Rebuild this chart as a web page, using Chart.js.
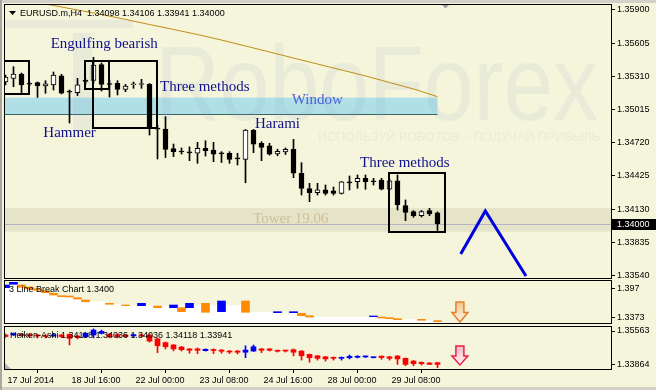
<!DOCTYPE html>
<html><head><meta charset="utf-8">
<script src="https://cdn.jsdelivr.net/npm/chart.js@4.4.1/dist/chart.umd.min.js"></script>
<style>
html,body{margin:0;padding:0;background:#F5F5DC;}
#wrap{position:relative;width:656px;height:390px;overflow:hidden;background:#F5F5DC;}
canvas{position:absolute;left:0;top:0;}
</style></head><body>
<div id="wrap">
<canvas id="cMain" width="656" height="390"></canvas>
<canvas id="cLbc" width="656" height="390"></canvas>
<canvas id="cHa" width="656" height="390"></canvas>
</div>
<script>
// ---------- DATA ----------
const symbol = 'EURUSD.m,H4';
const candleO = [1.35260,1.35293,1.35331,1.35242,1.35254,1.35225,1.35234,1.35314,1.35180,1.35165,
1.35269,1.35274,1.35416,1.35242,1.35249,1.35195,1.35236,1.35238,1.35240,1.34851,
1.34842,1.34668,1.34641,1.34634,1.34627,1.34671,1.34656,1.34625,1.34627,1.34580,
1.34573,1.34834,1.34716,1.34692,1.34622,1.34638,1.34662,1.34449,1.34314,1.34277,
1.34301,1.34294,1.34271,1.34367,1.34374,1.34404,1.34376,1.34389,1.34307,1.34383,
1.34161,1.34108,1.34072,1.34117,1.34098];
const candleH = [1.35322,1.35396,1.35340,1.35260,1.35260,1.35272,1.35349,1.35329,1.35189,1.35293,
1.35287,1.35480,1.35429,1.35278,1.35272,1.35239,1.35260,1.35284,1.35247,1.34878,
1.34952,1.34709,1.34674,1.34684,1.34724,1.34738,1.34724,1.34641,1.34641,1.34627,
1.34838,1.34838,1.34730,1.34716,1.34663,1.34674,1.34751,1.34543,1.34360,1.34360,
1.34345,1.34327,1.34376,1.34425,1.34434,1.34434,1.34404,1.34404,1.34398,1.34434,
1.34212,1.34117,1.34119,1.34138,1.34106];
const candleL = [1.35234,1.35218,1.35154,1.35225,1.35123,1.35160,1.35189,1.35154,1.34896,1.35140,
1.35242,1.35251,1.35180,1.35127,1.35145,1.35174,1.35204,1.35204,1.34789,1.34576,
1.34589,1.34597,1.34620,1.34561,1.34538,1.34602,1.34552,1.34545,1.34538,1.34523,
1.34365,1.34632,1.34561,1.34611,1.34605,1.34616,1.34410,1.34256,1.34197,1.34256,
1.34256,1.34256,1.34265,1.34301,1.34316,1.34307,1.34345,1.34301,1.34301,1.34123,
1.34028,1.34058,1.34061,1.34072,1.33941];
const candleC = [1.35305,1.35331,1.35234,1.35240,1.35225,1.35245,1.35322,1.35160,1.35169,1.35234,
1.35266,1.35411,1.35238,1.35238,1.35195,1.35225,1.35238,1.35240,1.34849,1.34842,
1.34662,1.34641,1.34638,1.34631,1.34671,1.34650,1.34618,1.34622,1.34573,1.34577,
1.34834,1.34707,1.34680,1.34618,1.34645,1.34662,1.34449,1.34314,1.34277,1.34301,
1.34271,1.34271,1.34374,1.34364,1.34404,1.34374,1.34373,1.34307,1.34383,1.34167,
1.34102,1.34072,1.34108,1.34087,1.34000];

const maIdx = [0,3,6,9,12,15,18,21,24,27,30,33,36,39,42,45,48,51,54];
const maVal = [1.36016,1.35980,1.35940,1.35900,1.35860,1.35816,1.35771,1.35727,1.35682,1.35633,
1.35580,1.35527,1.35473,1.35420,1.35367,1.35314,1.35256,1.35198,1.35130];

const zigIdx = [56.9, 59.98, 65.06];
const zigVal = [1.33732, 1.34114, 1.33536];

const mainTicks = [1.33540,1.33835,1.34130,1.34425,1.34720,1.35015,1.35310,1.35605,1.35900];
const lastPrice = 1.34000;

const towerBand = [1.33930, 1.34141];
const windowBand = [-1, 54, 1.34976, 1.35121];
const boxes = [ // [fromIdx, toIdx, topPrice, bottomPrice]
  [-1, 2.98, 1.35449, 1.35158],
  [9.94, 12.98, 1.35449, 1.35195],
  [10.9, 18.9, 1.35449, 1.34849],
  [47.94, 54.94, 1.34449, 1.33925]
];
const notes = [ // [text, idx, price, color]
  ['Engulfing bearish', 5.65, 1.35560, '#10108C'],
  ['Three methods', 19.31, 1.35183, '#10108C'],
  ['Hammer', 4.73, 1.34774, '#10108C'],
  ['Harami', 31.19, 1.34849, '#10108C'],
  ['Three methods', 44.31, 1.34508, '#10108C'],
  ['Window', 35.78, 1.35065, '#5060D8'],
  ['Tower 19.06', 30.94, 1.34005, '#D2BE96']
];

// 3 Line Break panel
const lbcTicks = [1.3373, 1.397];
const lbcTickText = ['1.3373', '1.397'];
const lbcIdx = [0,1,2,3,4,5,6,7,8,9,10,13,15,17,19,21,22,23,25,27,30,34,36,37,38,46,47,48,49,52,54];
const lbcLo = [1.39822,1.40512,1.39903,1.39558,1.39294,1.38807,1.38340,1.37994,1.37934,1.37527,
1.36979,1.36451,1.36167,1.36167,1.35761,1.35761,1.34949,1.35761,1.34827,1.34949,
1.34827,1.34746,1.34746,1.34137,1.33873,1.33933,1.33670,1.33527,1.33324,1.33202,1.32918];
const lbcHi = [1.40370,1.40918,1.40370,1.39964,1.39619,1.39213,1.38685,1.38197,1.38137,1.37791,
1.37324,1.36654,1.36309,1.36654,1.36106,1.36309,1.35761,1.36654,1.36654,1.37121,
1.37121,1.34949,1.34949,1.34624,1.34137,1.34076,1.33873,1.33730,1.33527,1.33405,1.33121];
const lbcUp = [1,1,0,0,0,0,0,0,0,0, 0,0,0,1,0,1,0,1,0,1, 0,1,1,0,0,1,0,0,0,0, 0];
const lbcWhiteTop = [1.39822,1.40512,1.39903,1.39558,1.39294,1.38807,1.38340,1.37994,1.37934,1.37527,
1.36979,1.36979,1.36979,1.36451,1.36451,1.36167,1.36167,1.36167,1.36167,1.36167,
1.36167,1.36167,1.36167,1.36167,1.36167,1.36167,1.36167,1.36167,1.36167,1.36167,
1.34827,1.34827,1.34827,1.34827,1.34746,1.34746,1.34746,1.34137,1.33873,1.33873,
1.33873,1.33873,1.33873,1.33873,1.33873,1.33873,1.33933,1.33670,1.33527,1.33324,
1.33324,1.33324,1.33202,1.33202,1.32918];
const lbcFloor = 1.32;

// Heiken-Ashi panel
const haTicks = [1.33864, 1.35563];
const haO = [1.3536,1.3536,1.3541,1.3538,1.3536,1.3533,1.3531,1.3536,1.3539,1.3531,
1.3527,1.3536,1.3544,1.3539,1.3538,1.3536,1.3531,1.3536,1.3536,1.3516,
1.3497,1.3485,1.3475,1.3465,1.3465,1.3456,1.3462,1.3459,1.3454,1.3454,
1.3448,1.3454,1.3465,1.3465,1.3458,1.3458,1.3461,1.3454,1.3437,1.3430,
1.3425,1.3422,1.3417,1.3420,1.3422,1.3424,1.3420,1.3428,1.3425,1.3429,
1.3417,1.3403,1.3397,1.3393,1.3395];
const haH = [1.3541,1.3546,1.3544,1.3541,1.3538,1.3536,1.3544,1.3538,1.3541,1.3533,
1.3546,1.3567,1.3561,1.3544,1.3541,1.3538,1.3541,1.3541,1.3541,1.3521,
1.3500,1.3487,1.3477,1.3467,1.3470,1.3465,1.3465,1.3462,1.3457,1.3457,
1.3481,1.3485,1.3467,1.3467,1.3459,1.3459,1.3465,1.3457,1.3439,1.3431,
1.3426,1.3424,1.3424,1.3434,1.3431,1.3429,1.3424,1.3429,1.3426,1.3431,
1.3419,1.3406,1.3398,1.3396,1.3396];
const haL = [1.3523,1.3533,1.3528,1.3526,1.3521,1.3521,1.3528,1.3523,1.3485,1.3516,
1.3526,1.3521,1.3541,1.3521,1.3521,1.3526,1.3528,1.3528,1.3500,1.3446,
1.3465,1.3455,1.3454,1.3443,1.3441,1.3454,1.3441,1.3443,1.3441,1.3439,
1.3420,1.3452,1.3446,1.3454,1.3449,1.3449,1.3429,1.3408,1.3397,1.3408,
1.3403,1.3408,1.3408,1.3414,1.3419,1.3421,1.3419,1.3412,1.3408,1.3386,
1.3379,1.3379,1.3383,1.3385,1.3369];
const haC = [1.3528,1.3544,1.3533,1.3531,1.3531,1.3528,1.3536,1.3528,1.3519,1.3523,
1.3545,1.3561,1.3554,1.3526,1.3528,1.3528,1.3538,1.3531,1.3505,1.3481,
1.3476,1.3465,1.3461,1.3458,1.3458,1.3463,1.3457,1.3453,1.3449,1.3448,
1.3459,1.3476,1.3458,1.3458,1.3453,1.3454,1.3448,1.3430,1.3420,1.3417,
1.3414,1.3417,1.3422,1.3427,1.3427,1.3427,1.3424,1.3421,1.3417,1.3414,
1.3386,1.3390,1.3390,1.3386,1.3386];
const haTitle = 'Heiken-Ashi 1.34118 1.34036 1.34036 1.34118 1.33941';
const lbcTitle = '3 Line Break Chart 1.3400';

const dateIdx = [0,8,16,24,32,40,48];
const dateText = ['17 Jul 2014','18 Jul 16:00','22 Jul 00:00','23 Jul 08:00','24 Jul 16:00','28 Jul 00:00','29 Jul 08:00'];

// ---------- SETUP ----------
Chart.defaults.font.family = '"Liberation Sans", Arial, sans-serif';
Chart.defaults.animation = false;
const SANS = '"Liberation Sans", Arial, sans-serif';
const SERIF = '"Liberation Serif", "Times New Roman", serif';
const X_MIN = -0.0625, X_MAX = 75.6875;
const idx = candleO.map((_, i) => i);

function xAxis() {
  return {type:'linear', min:X_MIN, max:X_MAX, offset:false, display:false, grid:{display:false}};
}
function yAxis(min, max, ticks, fmt) {
  return {
    type:'linear', position:'right', min, max,
    afterFit(s){ s.width = 45; },
    afterBuildTicks(s){ s.ticks = ticks.map(v => ({value:v})); },
    ticks:{autoSkip:false, padding:2, color:'#000', font:{family:SANS, size:9, lineHeight:0.5}, callback:fmt},
    grid:{drawOnChartArea:false, drawTicks:true, tickLength:4, color:'#000'},
    border:{display:true, color:'#000'}
  };
}
function frame(ctx, a) {
  ctx.save(); ctx.strokeStyle = '#000'; ctx.lineWidth = 1;
  ctx.strokeRect(a.left - 0.5, a.top - 0.5, a.right - a.left + 1, a.bottom - a.top + 1);
  ctx.restore();
}
function clipArea(ctx, a) { ctx.beginPath(); ctx.rect(a.left, a.top, a.right - a.left, a.bottom - a.top); ctx.clip(); }
function drawArrow(ctx, cx, top, h, stroke, c1, c2) {
  const sw = 8, hw = 16, hh = h * 0.47;
  const g = ctx.createLinearGradient(0, top, 0, top + h);
  g.addColorStop(0, c1); g.addColorStop(1, c2);
  ctx.save();
  ctx.beginPath();
  ctx.moveTo(cx - sw/2, top); ctx.lineTo(cx + sw/2, top); ctx.lineTo(cx + sw/2, top + h - hh);
  ctx.lineTo(cx + hw/2, top + h - hh); ctx.lineTo(cx, top + h); ctx.lineTo(cx - hw/2, top + h - hh);
  ctx.lineTo(cx - sw/2, top + h - hh); ctx.closePath();
  ctx.fillStyle = g; ctx.fill();
  ctx.strokeStyle = stroke; ctx.lineWidth = 1.5; ctx.stroke();
  ctx.restore();
}
const noPlug = {legend:{display:false}, tooltip:{enabled:false}};

// ---------- MAIN ----------
const mainDeco = {
  id:'mainDeco',
  beforeDraw(chart) {
    const ctx = chart.ctx;
    ctx.save();
    ctx.fillStyle = '#F5F5DC'; ctx.fillRect(0, 0, 656, 390);
    ctx.fillStyle = '#D4D0C8'; ctx.fillRect(0, 0, 656, 3); ctx.fillRect(0, 387, 656, 3);
    ctx.fillStyle = '#A8A8A0'; ctx.fillRect(0, 0, 2, 390);
    ctx.restore();
  },
  beforeDatasetsDraw(chart) {
    const {ctx, chartArea:a, scales:{x, y}} = chart;
    ctx.save(); clipArea(ctx, a);
    // tower band
    const t1 = y.getPixelForValue(towerBand[1]), t0 = y.getPixelForValue(towerBand[0]);
    ctx.fillStyle = '#E6E4C8'; ctx.fillRect(a.left, t1, a.right - a.left, t0 - t1);
    // last price line
    const py = Math.round(y.getPixelForValue(lastPrice)) + 0.5;
    ctx.strokeStyle = '#B4B4C4'; ctx.lineWidth = 1;
    ctx.beginPath(); ctx.moveTo(a.left, py); ctx.lineTo(a.right, py); ctx.stroke();
    // window band
    const wx0 = x.getPixelForValue(windowBand[0]), wx1 = x.getPixelForValue(windowBand[1]);
    const wy0 = y.getPixelForValue(windowBand[3]), wy1 = y.getPixelForValue(windowBand[2]);
    ctx.fillStyle = '#B0DFE6'; ctx.fillRect(wx0, wy0, wx1 - wx0, wy1 - wy0);
    ctx.strokeStyle = '#35636B'; ctx.beginPath();
    ctx.moveTo(wx0, Math.round(wy1) + 0.5); ctx.lineTo(wx1, Math.round(wy1) + 0.5); ctx.stroke();
    // watermark
    ctx.fillStyle = 'rgba(150,170,190,0.13)';
    ctx.fillRect(4, 20, 129, 8);
    ctx.fillRect(73, 33, 19, 97);
    ctx.font = '106px ' + SANS;
    let w = ctx.measureText('RoboForex').width;
    ctx.save(); ctx.translate(155, 120); ctx.scale(443 / w, 1); ctx.fillText('RoboForex', 0, 0); ctx.restore();
    ctx.font = '12.5px ' + SANS;
    const sub = 'ИСПОЛЬЗУЙ РОБОТОВ – ПОЛУЧАЙ ПРИБЫЛЬ';
    w = ctx.measureText(sub).width;
    ctx.save(); ctx.translate(318, 141); ctx.scale(282 / w, 1); ctx.fillText(sub, 0, 0); ctx.restore();
    ctx.restore();
  },
  afterDatasetsDraw(chart) {
    const {ctx, chartArea:a, scales:{x, y}} = chart;
    ctx.save(); clipArea(ctx, a);
    ctx.strokeStyle = '#000'; ctx.lineWidth = 2;
    boxes.forEach(b => {
      const x0 = Math.round(x.getPixelForValue(b[0])), x1 = Math.round(x.getPixelForValue(b[1]));
      const y0 = Math.round(y.getPixelForValue(b[2])), y1 = Math.round(y.getPixelForValue(b[3]));
      ctx.strokeRect(x0, y0, x1 - x0, y1 - y0);
    });
    ctx.font = '15px ' + SERIF; ctx.textBaseline = 'alphabetic'; ctx.textAlign = 'left';
    notes.forEach(n => {
      ctx.fillStyle = n[3];
      ctx.fillText(n[0], x.getPixelForValue(n[1]), y.getPixelForValue(n[2]));
    });
    ctx.restore();
  },
  afterDraw(chart) {
    const {ctx, chartArea:a, scales:{x, y}} = chart;
    frame(ctx, a);
    ctx.save();
    // header
    ctx.fillStyle = '#000';
    ctx.beginPath(); ctx.moveTo(9, 11); ctx.lineTo(16, 11); ctx.lineTo(12.5, 15); ctx.closePath(); ctx.fill();
    ctx.font = '9px ' + SANS; ctx.textBaseline = 'alphabetic';
    const n = candleO.length - 1;
    ctx.fillText(symbol + '  ' + [candleO[n], candleH[n], candleL[n], candleC[n]].map(v => v.toFixed(5)).join(' '), 20, 16);
    // shift marker
    const sx = x.getPixelForValue(55);
    ctx.fillStyle = '#A0A0A0';
    ctx.beginPath(); ctx.moveTo(sx - 3.5, 5); ctx.lineTo(sx + 3.5, 5); ctx.lineTo(sx, 8.5); ctx.closePath(); ctx.fill();
    // price box
    const py = Math.round(y.getPixelForValue(lastPrice));
    ctx.fillStyle = '#000'; ctx.fillRect(612, py - 5, 44, 11);
    ctx.fillStyle = '#FFF'; ctx.textBaseline = 'middle';
    ctx.fillText(lastPrice.toFixed(5), 617, py + 0.5);
    ctx.restore();
  }
};

new Chart(document.getElementById('cMain'), {
  type:'bar',
  data:{datasets:[
    {type:'line', label:'zigzag', data:zigIdx.map((v, k) => ({x:v, y:zigVal[k]})), borderColor:'#0000E0', borderWidth:3, pointRadius:0, order:0},
    {type:'line', label:'MA', data:maIdx.map((v, k) => ({x:v, y:maVal[k]})), borderColor:'#C48C14', borderWidth:1, pointRadius:0, order:1},
    {type:'bar', label:'body', data:idx.map(i => ({x:i, y:[candleO[i], candleC[i]]})),
      backgroundColor:idx.map(i => candleC[i] > candleO[i] ? '#FFFFFF' : '#000000'),
      borderColor:'#000', borderWidth:1, borderSkipped:false, barThickness:5, minBarLength:1, grouped:false, order:2},
    {type:'bar', label:'wick', data:idx.map(i => ({x:i, y:[candleL[i], candleH[i]]})),
      backgroundColor:'#000', barThickness:1, grouped:false, order:3}
  ]},
  options:{
    responsive:false, devicePixelRatio:1, animation:false, events:[],
    layout:{padding:{left:5, top:5, right:0, bottom:112}},
    plugins:noPlug,
    scales:{x:xAxis(), y:yAxis(1.335186, 1.359444, mainTicks, v => Number(v).toFixed(5))}
  },
  plugins:[mainDeco]
});

// ---------- 3 LINE BREAK ----------
const lbcDeco = {
  id:'lbcDeco',
  afterDraw(chart) {
    const {ctx, chartArea:a, scales:{x, y}} = chart;
    frame(ctx, a);
    ctx.save();
    ctx.fillStyle = '#000'; ctx.font = '9px ' + SANS; ctx.textBaseline = 'middle';
    ctx.fillText(lbcTitle, 9, 290);
    drawArrow(ctx, x.getPixelForValue(56.8), y.getPixelForValue(1.36918), 20, '#E8802A', '#F3C48A', '#FFF6EA');
    ctx.restore();
  }
};
new Chart(document.getElementById('cLbc'), {
  type:'bar',
  data:{datasets:[
    {label:'bricks', data:lbcIdx.map((v, k) => ({x:v, y:[lbcLo[k], lbcHi[k]]})),
      backgroundColor:lbcUp.map(u => u ? '#0000FF' : '#FF8C00'), barThickness:8, grouped:false, order:1},
    {label:'white', data:idx.map(i => ({x:i, y:[lbcFloor, lbcWhiteTop[i]]})),
      backgroundColor:'#FFFFFF', barThickness:8, grouped:false, order:2}
  ]},
  options:{
    responsive:false, devicePixelRatio:1, animation:false, events:[],
    layout:{padding:{left:5, top:281, right:0, bottom:67}},
    plugins:noPlug,
    scales:{x:xAxis(), y:yAxis(1.32654, 1.41182, lbcTicks, (v, i) => lbcTickText[i])}
  },
  plugins:[lbcDeco]
});

// ---------- HEIKEN ASHI ----------
const haDeco = {
  id:'haDeco',
  afterDraw(chart) {
    const {ctx, chartArea:a, scales:{x, y}} = chart;
    frame(ctx, a);
    ctx.save();
    ctx.fillStyle = '#000'; ctx.font = '9px ' + SANS; ctx.textBaseline = 'middle';
    ctx.fillText(haTitle, 10, 336);
    ctx.fillStyle = '#B4B4B4';
    ctx.beginPath(); ctx.moveTo(a.left, a.bottom - 6); ctx.lineTo(a.left, a.bottom); ctx.lineTo(a.left + 6, a.bottom); ctx.closePath(); ctx.fill();
    drawArrow(ctx, x.getPixelForValue(56.8), y.getPixelForValue(1.34798), 19, '#E8204A', '#F6B8C4', '#FFF4F6');
    ctx.restore();
  }
};
const haAxisX = Object.assign(xAxis(), {
  display:true, position:'bottom',
  afterFit(s){ s.height = 20; },
  afterBuildTicks(s){ s.ticks = dateIdx.map(v => ({value:v})); },
  ticks:{autoSkip:false, maxRotation:0, minRotation:0, align:'start', labelOffset:2, padding:2, color:'#000',
    font:{family:SANS, size:9}, callback:(v, i) => dateText[i]},
  grid:{drawOnChartArea:false, drawTicks:true, tickLength:4, color:'#000'},
  border:{display:false}
});
new Chart(document.getElementById('cHa'), {
  type:'bar',
  data:{datasets:[
    {label:'body', data:idx.map(i => ({x:i, y:[haO[i], haC[i]]})),
      backgroundColor:idx.map(i => haC[i] > haO[i] ? '#0000FF' : '#FF0000'), barThickness:5, minBarLength:1, grouped:false, order:1},
    {label:'wick', data:idx.map(i => ({x:i, y:[haL[i], haH[i]]})),
      backgroundColor:idx.map(i => haC[i] > haO[i] ? '#0000FF' : '#FF0000'), barThickness:1, grouped:false, order:2}
  ]},
  options:{
    responsive:false, devicePixelRatio:1, animation:false, events:[],
    layout:{padding:{left:5, top:327, right:0, bottom:1}},
    plugins:noPlug,
    scales:{x:haAxisX, y:yAxis(1.33625, 1.35767, haTicks, v => Number(v).toFixed(5))}
  },
  plugins:[haDeco]
});
</script>
</body></html>
